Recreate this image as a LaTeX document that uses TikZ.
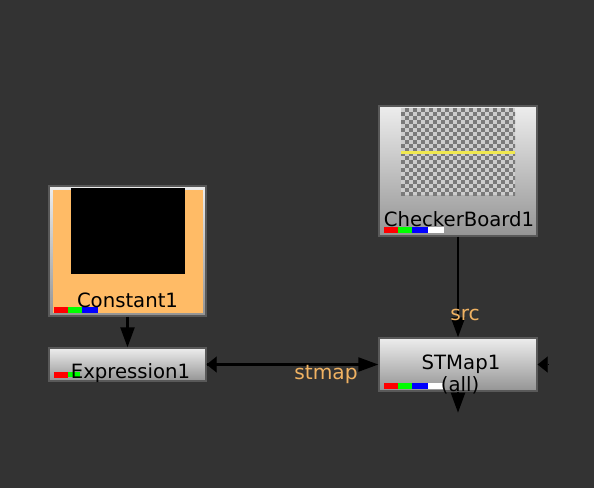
\documentclass[tikz,border=0pt]{standalone}
\usepackage{fontspec}
\setmainfont{DejaVu Sans}
\usepackage{xcolor}
\usepackage{tikz}
\usetikzlibrary{arrows.meta, positioning, calc}
\definecolor{graphbg}{RGB}{51,51,51}
\definecolor{constorange}{RGB}{255,187,102}
\definecolor{pipeorange}{RGB}{240,178,98}
\definecolor{checklight}{RGB}{205,205,205}
\definecolor{checkdark}{RGB}{122,122,122}
\definecolor{scanyellow}{RGB}{240,232,80}
\tikzset{
  nukenode/.style={
    draw=black!65, line width=0.8pt, inner sep=0pt,
    top color=black!7, bottom color=black!42,
    minimum width=3.14cm
  },
  nukelabel/.style={
    font=\fontsize{11.2}{12}\selectfont, text=black, inner sep=0pt, anchor=base
  },
  pipelabel/.style={
    font=\fontsize{11.5}{12}\selectfont, text=pipeorange, inner sep=0pt, anchor=base
  },
  pipe/.style={
    -{Triangle[length=0.4cm, width=0.28cm]}, line width=1.3pt, black
  },
  maskpipe/.style={
    -{Triangle[length=0.2cm, width=0.32cm]}, line width=0.1pt, black
  },
}

\begin{document}
\begin{tikzpicture}[x=0.02cm, y=-0.02cm]
  % ── Canvas ─────────────────────────────────────────────────────
  \fill[graphbg] (0,0) rectangle (594,488);
  \useasboundingbox (0,0) rectangle (594,488);

  % ── Nodes ──────────────────────────────────────────────────────
  \node[nukenode, minimum height=2.6cm]  (const)   at (127.5, 251)   {};
  \node[nukenode, minimum height=0.66cm] (expr)    at (127.5, 364.5) {};
  \node[nukenode, minimum height=2.6cm, minimum width=3.16cm]
    (checker) at (458, 171) {};
  \node[nukenode, minimum height=1.06cm, minimum width=3.16cm]
    (stmap)   at (458, 364.5) {};

  % Constant1 orange body and black thumbnail
  \fill[constorange] (53,190) rectangle (203,313);
  \fill[black] (71,188) rectangle (185,274);

  % CheckerBoard1 thumbnail
  \begin{scope}
    \clip (401,108) rectangle (515,195);
    \fill[checklight] (401,108) rectangle (515,195);
    \foreach \i in {0,...,28} {
      \foreach \j in {0,...,21} {
        \ifodd\numexpr\i+\j\relax
          \fill[checkdark] (401+4*\i, 108+4*\j) rectangle ++(4,4);
        \fi
      }
    }
  \end{scope}
  \draw[scanyellow, line width=1.7pt] (401,152) -- (515,152);

  % ── Channel bars ───────────────────────────────────────────────
  \foreach \x/\w/\col in {54/14/red, 68/14/green, 82/16/blue} {
    \fill[\col] (\x,307) rectangle ++(\w,6);
  }
  \fill[red] (54,372) rectangle (68,378);
  \fill[green] (68,372) rectangle (80,377);
  \foreach \x/\w/\col in {384/14/red, 398/14/green, 412/16/blue, 428/16/white} {
    \fill[\col] (\x,227) rectangle ++(\w,6);
    \fill[\col] (\x,383) rectangle ++(\w,6);
  }

  % ── Node labels ────────────────────────────────────────────────
  \node[nukelabel] (constlab)   at (127.5,307) {Constant1};
  \node[nukelabel] (exprlab)    at (130.5,378) {Expression1};
  \node[nukelabel] (checkerlab) at (459,226)   {CheckerBoard1};
  \node[nukelabel] (stmaplab)   at (461,369)   {STMap1};
  \node[nukelabel] (stmapall)   at (460,391)   {(all)};

  % ── Pipes ──────────────────────────────────────────────────────
  \coordinate (exprmask)  at ($(expr.east)+(10,0)$);
  \coordinate (stmapmask) at ($(stmap.east)+(10,0)$);
  \coordinate (stmapout)  at ($(stmap.south)+(0,21)$);

  \draw[pipe] (const.south) -- (expr.north);
  \draw[pipe] (checker.south) -- (stmap.north);
  \draw[pipe] (expr.east) -- (stmap.west);
  \draw[maskpipe] (exprmask) -- (expr.east);
  \draw[maskpipe] (stmapmask) -- (stmap.east);
  \draw[pipe] (stmap.south) -- (stmapout);

  % Pipe labels
  \node[pipelabel] (srclab)     at (465,320) {src};
  \node[pipelabel] (stmappipe)  at (326,379) {stmap};
\end{tikzpicture}
\end{document}
